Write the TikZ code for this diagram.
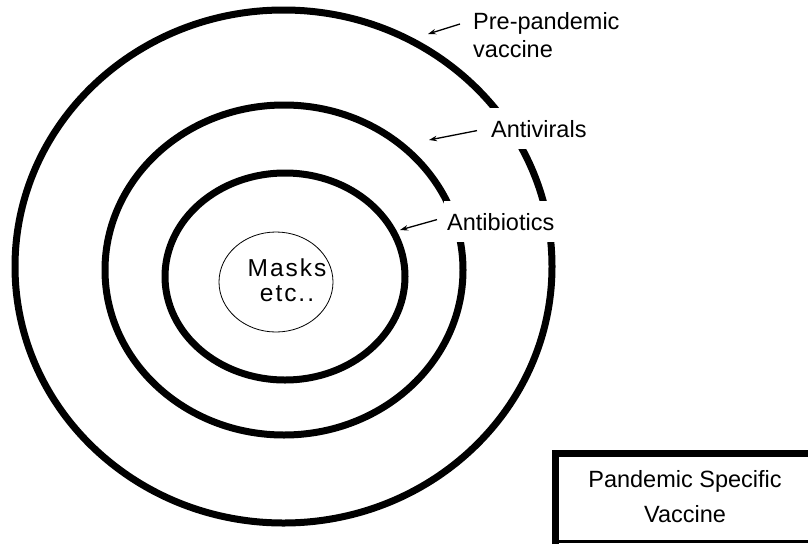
\documentclass[tikz,border=0pt]{standalone}
\usepackage{fontspec}
\setmainfont{Liberation Sans}
\usetikzlibrary{shapes.geometric,arrows.meta}
\begin{document}
\begin{tikzpicture}[x=1pt,y=-1pt,
  ring/.style={draw=black,line width=7pt,ellipse,inner sep=0pt},
  lbl/.style={inner sep=0pt,font=\fontsize{23.5}{28}\selectfont},
  lblbg/.style={lbl,fill=white,inner xsep=3pt,inner ysep=12pt},
  arr/.style={line width=1.3pt,-{Stealth[length=8pt,width=5.5pt]}}]
\useasboundingbox (0,0) rectangle (808,544);
% rings
\node[ring,minimum width=537pt,minimum height=513pt] (outer) at (283.5,266.5) {};
\node[ring,minimum width=358pt,minimum height=330pt] (middle) at (284,270) {};
\node[ring,minimum width=240pt,minimum height=207pt] (inner) at (285,276.5) {};
\node[draw=black,line width=0.8pt,ellipse,inner sep=0pt,minimum width=114pt,minimum height=100pt] (masks) at (276,282) {};
\node[inner sep=0pt,align=center,anchor=north,font=\fontsize{24.5}{25}\selectfont\addfontfeatures{LetterSpace=8}] (maskstxt) at (287,259) {Masks\\etc..};
% labels
\node[lbl,align=left,anchor=north west] (pre) at (473,12.5) {Pre-pandemic\\vaccine};
\node[lblbg,anchor=base west] (antiv) at (488,137) {Antivirals};
\node[lblbg,anchor=base west] (antib) at (444,230) {Antibiotics};
% arrow tips
\coordinate (tippre) at (428,34);
\coordinate (tipav) at (429,140);
\coordinate (tipab) at (400,230);
\draw[arr] ([xshift=-13pt,yshift=-11.5pt]pre.north west) -- (tippre);
\draw[arr] ([xshift=-11pt,yshift=-2pt]antiv.west) -- (tipav);
\draw[arr] ([xshift=-7pt,yshift=2pt]antib.west) -- (tipab);
% box
\coordinate (boxbl) at (555.5,544);
\coordinate (boxtl) at (555.5,453.5);
\coordinate (boxtr) at (808,453.5);
\coordinate (boxbl2) at (555.5,541.5);
\coordinate (boxbr) at (808,541.5);
\draw[line width=2.5pt] (boxbl2) -- (boxbr);
\draw[line width=7pt] (boxbl) -- (boxtl) -- (boxtr);
\node[inner sep=0pt,align=center,anchor=north,font=\fontsize{23.5}{35}\selectfont] (psv) at (685,470.5) {Pandemic Specific\\Vaccine};
\end{tikzpicture}
\end{document}
